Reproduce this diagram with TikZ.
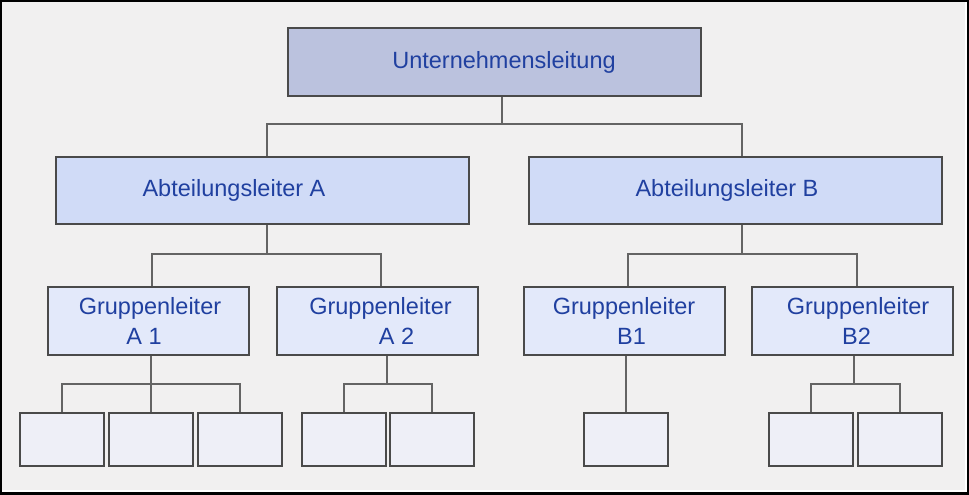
\documentclass[tikz,border=0pt]{standalone}
\usepackage{fontspec}
\setmainfont{Liberation Sans}
\usepackage{tikz}
\usetikzlibrary{positioning,calc,backgrounds}
\definecolor{ocBg}{RGB}{241,240,240}
\definecolor{ocTop}{RGB}{187,194,222}
\definecolor{ocDept}{RGB}{208,219,247}
\definecolor{ocGroup}{RGB}{227,233,250}
\definecolor{ocEmpty}{RGB}{238,239,247}
\definecolor{ocText}{RGB}{32,64,160}
\definecolor{ocBorder}{RGB}{74,74,74}
\definecolor{ocLine}{RGB}{100,100,100}

\begin{document}
\begin{tikzpicture}[x=1pt, y=-1pt,
  box/.style={draw=ocBorder, line width=2pt, inner sep=0pt, text=ocText,
    font=\fontsize{23.5}{30}\selectfont, align=center},
  topbox/.style={box, fill=ocTop, minimum width=413pt, minimum height=68pt},
  deptbox/.style={box, fill=ocDept, minimum width=413pt, minimum height=67pt},
  groupbox/.style={box, fill=ocGroup, minimum width=201pt, minimum height=68pt},
  emptybox/.style={box, fill=ocEmpty, minimum width=84pt, minimum height=53pt},
  conn/.style={draw=ocLine, line width=1.8pt}]

  % Management
  \node[topbox] (ul) at (494.5,62) {\hspace*{19pt}Unternehmensleitung};

  % Department heads
  \node[deptbox] (abtA) at (262.5,190.5) {Abteilungsleiter A\hspace*{57pt}};
  \node[deptbox] (abtB) at (735.5,190.5) {Abteilungsleiter B\hspace*{17pt}};

  % Group heads
  \node[groupbox] (glA1) at (148.5,321) {\hspace*{3pt}Gruppenleiter\\A 1\hspace*{9pt}};
  \node[groupbox] (glA2) at (377.5,321) {\hspace*{6pt}Gruppenleiter\\\hspace*{38pt}A 2};
  \node[groupbox] (glB1) at (624,321) {Gruppenleiter\\\hspace*{15pt}B1};
  \node[groupbox] (glB2) at (852.5,321) {\hspace*{11pt}Gruppenleiter\\\hspace*{8pt}B2};

  % Staff (empty boxes)
  \node[emptybox] (a1a) at (62,439.5) {};
  \node[emptybox] (a1b) at (151,439.5) {};
  \node[emptybox] (a1c) at (240,439.5) {};
  \node[emptybox] (a2a) at (344,439.5) {};
  \node[emptybox] (a2b) at (432,439.5) {};
  \node[emptybox] (b1a) at (626,439.5) {};
  \node[emptybox] (b2a) at (811,439.5) {};
  \node[emptybox] (b2b) at (900,439.5) {};

  % bus levels
  \coordinate (bus0) at (0,124);
  \coordinate (bus1) at (0,254);
  \coordinate (bus2) at (0,384);

  \begin{scope}[on background layer]
    % Frame
    \fill[black] (0,0) rectangle (969,495);
    \fill[white] (2,2) rectangle (967,492);
    \fill[ocBg] (2,2) rectangle (965,490);

    % Level 1
    \draw[conn] ([xshift=7.5pt]ul.south) -- ([xshift=7.5pt]ul.south |- bus0);
    \draw[conn] ([xshift=4.5pt]abtA.north) |- ([xshift=6.5pt]abtB.north |- bus0) -- ([xshift=6.5pt]abtB.north);

    % Level 2
    \draw[conn] ([xshift=4.5pt]abtA.south) -- ([xshift=4.5pt]abtA.south |- bus1);
    \draw[conn] ([xshift=3.5pt]glA1.north) |- ([xshift=3.5pt]glA2.north |- bus1) -- ([xshift=3.5pt]glA2.north);
    \draw[conn] ([xshift=6.5pt]abtB.south) -- ([xshift=6.5pt]abtB.south |- bus1);
    \draw[conn] ([xshift=4pt]glB1.north) |- ([xshift=4.5pt]glB2.north |- bus1) -- ([xshift=4.5pt]glB2.north);

    % Level 3
    \draw[conn] (a1b.north) -- (a1b.north |- glA1.south);
    \draw[conn] (a1a.north) |- (a1c.north |- bus2) -- (a1c.north);
    \draw[conn] ([xshift=9.5pt]glA2.south) -- ([xshift=9.5pt]glA2.south |- bus2);
    \draw[conn] (a2a.north) |- (a2b.north |- bus2) -- (a2b.north);
    \draw[conn] (b1a.north) -- (b1a.north |- glB1.south);
    \draw[conn] ([xshift=1.5pt]glB2.south) -- ([xshift=1.5pt]glB2.south |- bus2);
    \draw[conn] (b2a.north) |- (b2b.north |- bus2) -- (b2b.north);
  \end{scope}
\end{tikzpicture}
\end{document}
